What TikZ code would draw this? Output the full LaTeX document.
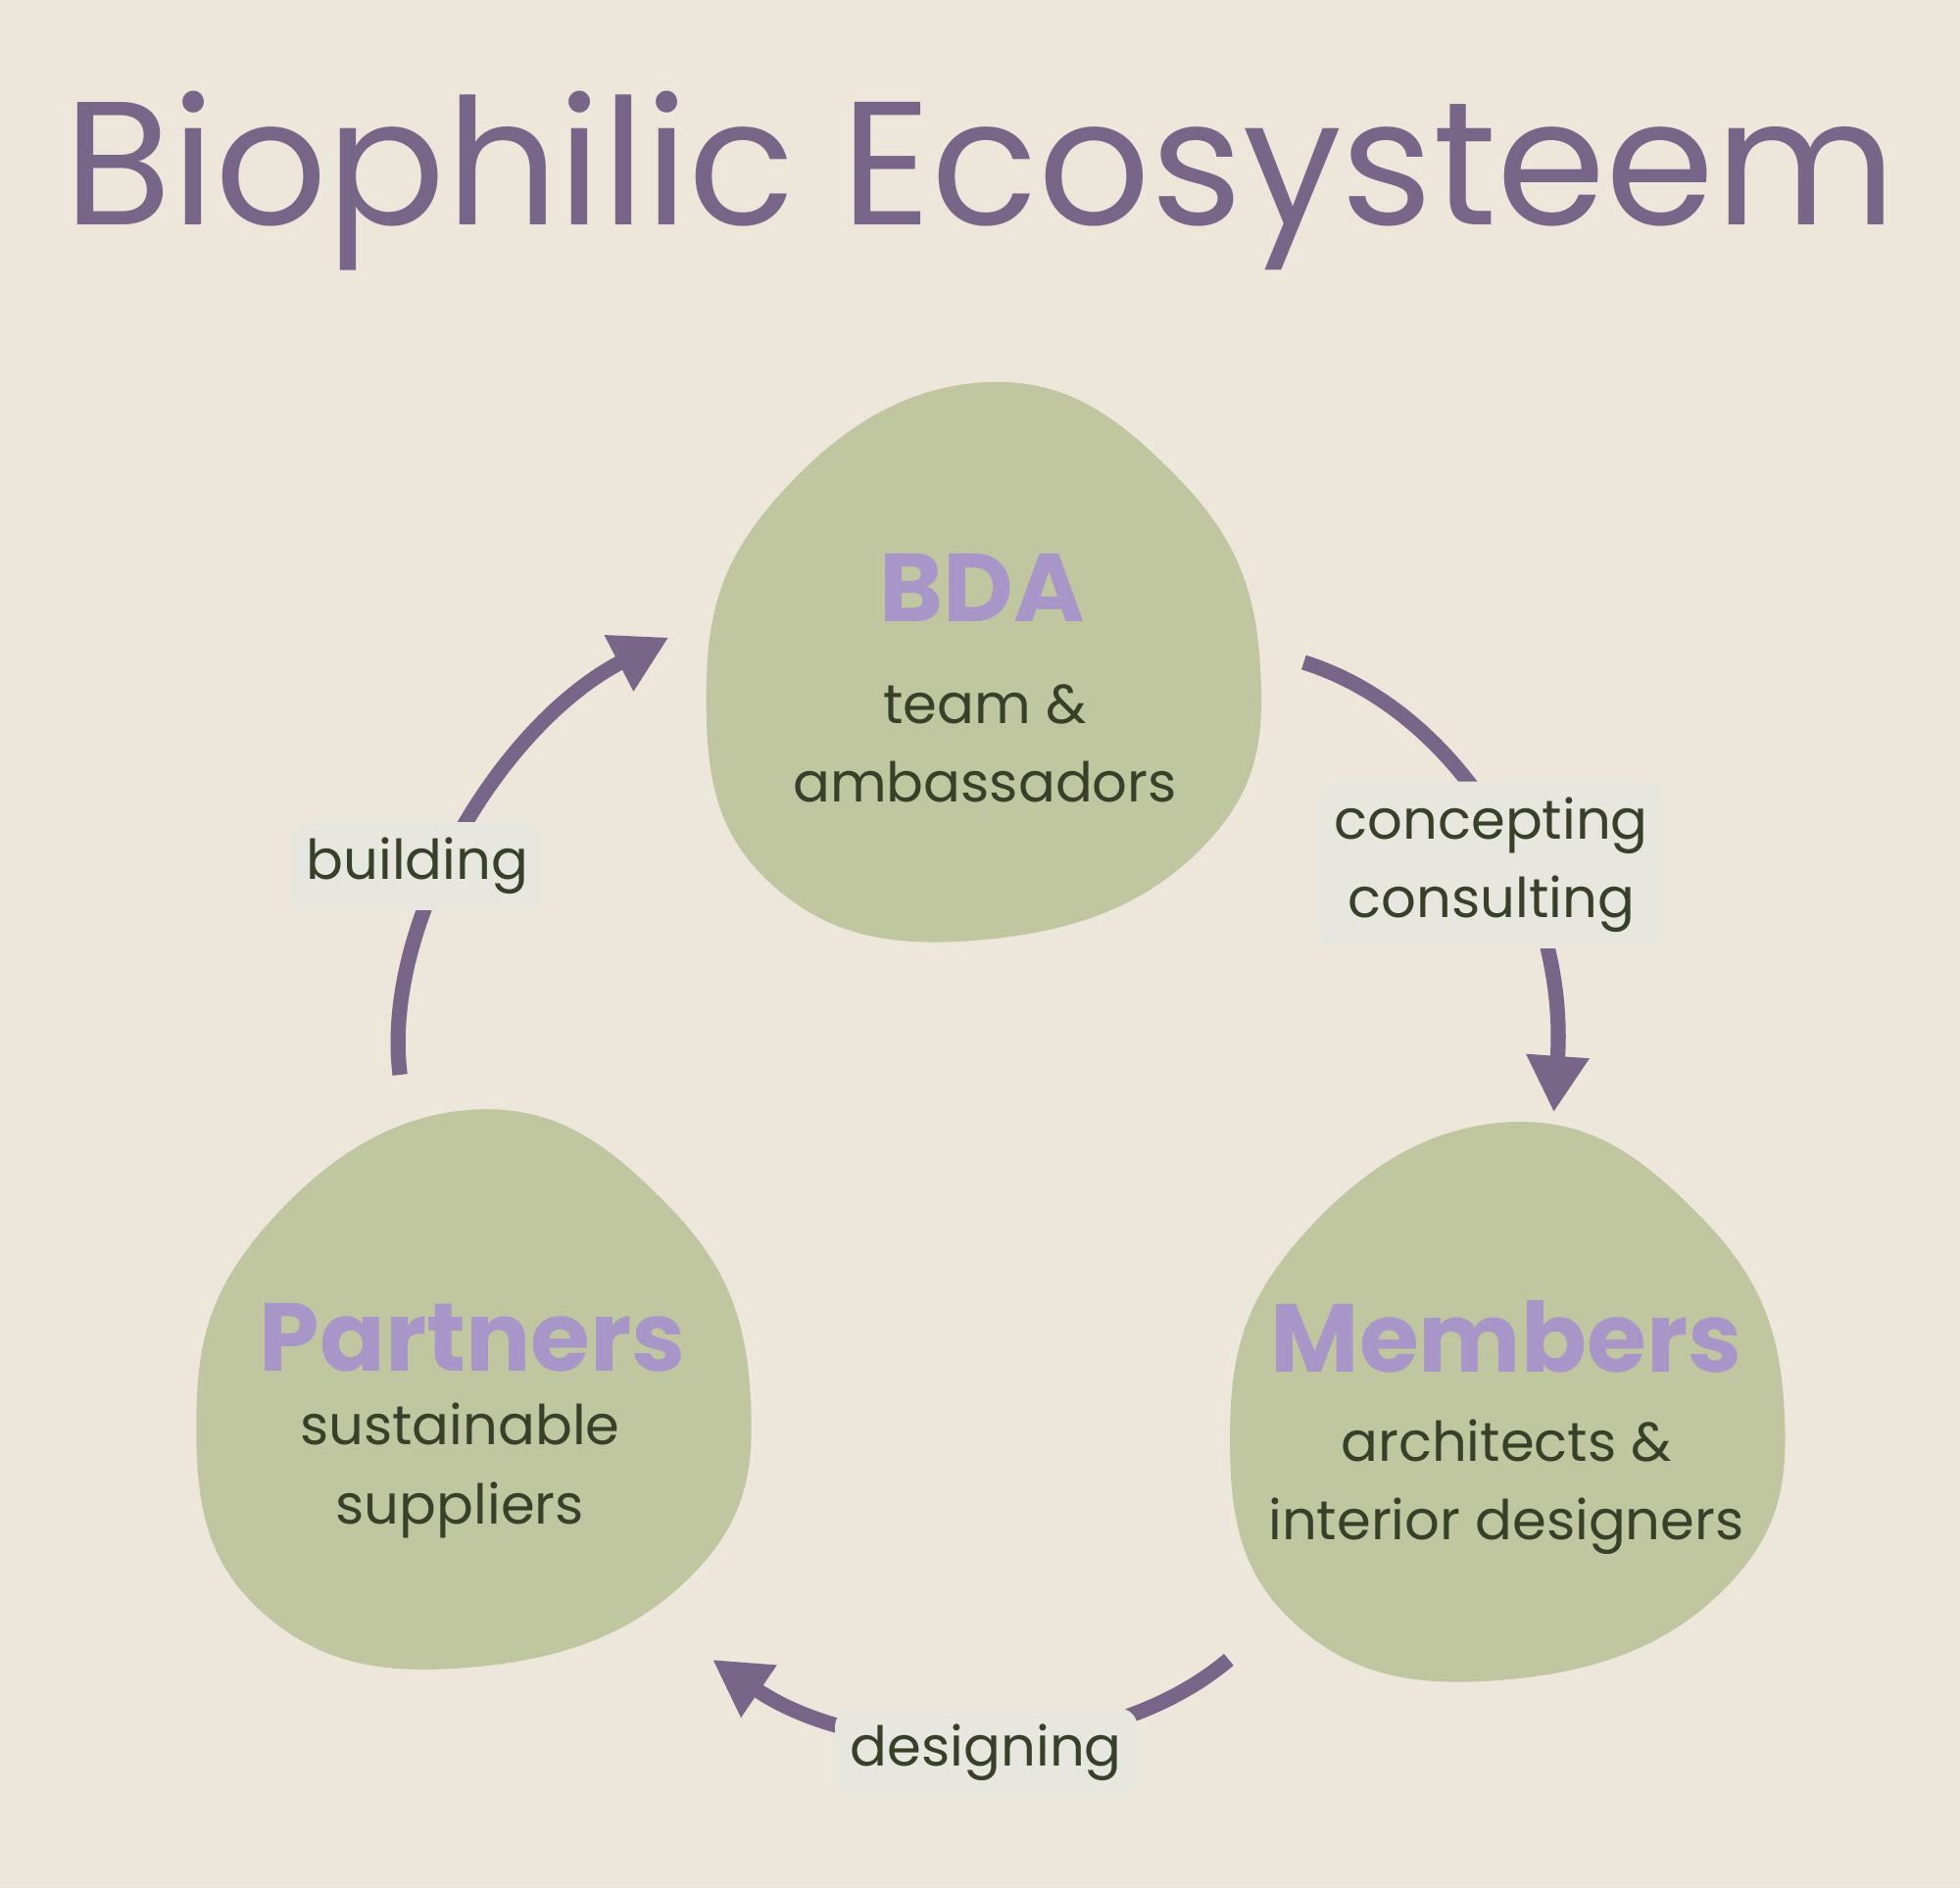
\documentclass[tikz,border=0pt]{standalone}
\usepackage{fontspec}
\setmainfont{Poppins}
\usetikzlibrary{arrows.meta}
\definecolor{bg}{HTML}{EDE6DB}
\definecolor{blob}{HTML}{C0C6A0}
\definecolor{ttl}{HTML}{776688}
\definecolor{nm}{HTML}{A996C8}
\definecolor{txt}{HTML}{38402A}
\definecolor{lbl}{HTML}{E8E7DF}
\tikzset{
 blobshape/.style={fill=blob,draw=none},
 nmtext/.style={text=nm,font=\fontsize{44}{50}\selectfont\bfseries},
 bodytext/.style={text=txt,font=\fontsize{25}{36}\selectfont,align=center},
 lblbox/.style={fill=lbl,rounded corners=0.3cm,text=txt,font=\fontsize{25}{36}\selectfont,align=center,inner sep=0.25cm},
 arr/.style={draw=ttl,line width=0.24cm,-{Triangle[length=0.9cm,width=0.95cm]}}
}
\newcommand{\myblob}[2]{\fill[blobshape,shift={(#1,#2)}] plot[smooth cycle,tension=0.75] coordinates{(0,-223) (154,-149) (222,1) (174,151) (0,223) (-166,181) (-221,31) (-166,-129)};}
\begin{document}
\begin{tikzpicture}[x=0.02cm,y=-0.02cm]
\fill[bg] (0,0) rectangle (1568,1511);
\useasboundingbox (0,0) rectangle (1568,1511);
\node[text=ttl,font=\fontsize{80}{90}\selectfont] (title) at (784,145) {Biophilic Ecosysteem};
\myblob{786}{529}
\myblob{378}{1111}
\myblob{1205}{1121}
\node[nmtext] (bda) at (786,470) {BDA};
\node[bodytext] (bdat) at (788,595) {team \&\\ambassadors};
\node[nmtext] (par) at (378,1070) {Partners};
\node[bodytext] (part) at (368,1177) {sustainable\\suppliers};
\node[nmtext] (mem) at (1205,1070) {Members};
\node[bodytext] (memt) at (1205,1190) {architects \&\\interior designers};
\coordinate (a1s) at (320,860); \coordinate (a1e) at (535,510);
\coordinate (a2s) at (1043,530); \coordinate (a2e) at (1243,890);
\coordinate (a3s) at (983,1328); \coordinate (a3e) at (570,1328);
\draw[arr] (a1s) .. controls (305,740) and (400,580) .. (a1e);
\draw[arr] (a2s) .. controls (1170,570) and (1255,720) .. (a2e);
\draw[arr] (a3s) .. controls (880,1415) and (690,1410) .. (a3e);
\node[lblbox] (l1) at (334,693) {building};
\node[lblbox] (l2) at (1193,692) {concepting\\consulting};
\node[lblbox] (l3) at (789,1402) {designing};
\end{tikzpicture}
\end{document}
